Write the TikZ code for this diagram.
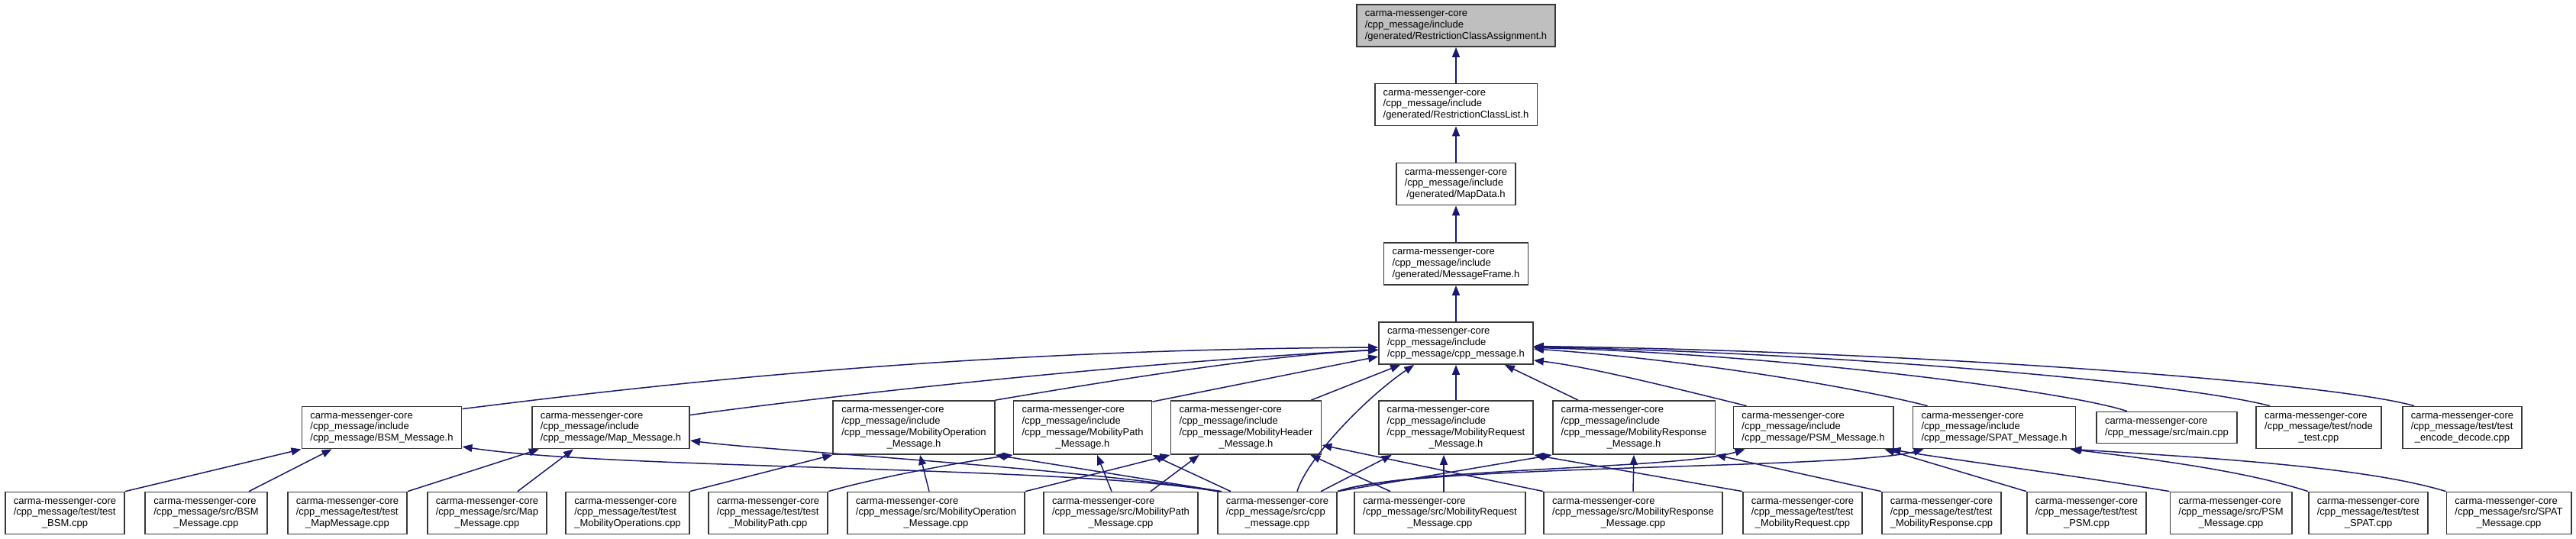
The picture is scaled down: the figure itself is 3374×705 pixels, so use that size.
\documentclass[tikz,border=0pt]{standalone}
\usepackage{fontspec}
\setmainfont{Liberation Sans}
\usetikzlibrary{arrows.meta}
\definecolor{edgeblue}{HTML}{191970}
\definecolor{boxgray}{HTML}{383838}
\definecolor{rootfill}{HTML}{BFBFBF}
\newcommand{\ltwo}[2]{\begin{tabular}{@{}l@{}}#1\\\multicolumn{1}{@{}c@{}}{#2}\end{tabular}}
\newcommand{\lthree}[3]{\begin{tabular}{@{}l@{}}#1\\#2\\\multicolumn{1}{@{}c@{}}{#3}\end{tabular}}
\newcommand{\lfour}[4]{\begin{tabular}{@{}l@{}}#1\\#2\\#3\\\multicolumn{1}{@{}c@{}}{#4}\end{tabular}}
\newcommand{\cmc}{carma-messenger-core}
\tikzset{
  box/.style={draw=boxgray, line width=1.8pt, fill=white, inner xsep=11pt, inner ysep=0pt,
    font=\fontsize{13}{14.7}\selectfont},
  hb2/.style={box, minimum height=41pt},
  hb3/.style={box, minimum height=55pt},
  hb4/.style={box, minimum height=70pt},
  dep/.style={draw=edgeblue, line width=1.5pt, -{Triangle[length=13pt,width=10pt]}},
}
\begin{document}
\begin{tikzpicture}[x=1pt,y=-1pt]
\useasboundingbox (0,0) rectangle (3374,705);
% chain
\node[hb3, fill=rootfill] (n0) at (1907,33.5) {\lthree{\cmc}{/cpp\_message/include}{/generated/RestrictionClassAssignment.h}};
\node[hb3] (n1) at (1907,137) {\lthree{\cmc}{/cpp\_message/include}{/generated/RestrictionClassList.h}};
\node[hb3] (n2) at (1907,241) {\lthree{\cmc}{/cpp\_message/include}{/generated/MapData.h}};
\node[hb3] (n3) at (1907,345.5) {\lthree{\cmc}{/cpp\_message/include}{/generated/MessageFrame.h}};
\node[hb3] (n4) at (1907,449.5) {\lthree{\cmc}{/cpp\_message/include}{/cpp\_message/cpp\_message.h}};
% row 5
\node[hb3] (bsmh) at (500,560) {\lthree{\cmc}{/cpp\_message/include}{/cpp\_message/BSM\_Message.h}};
\node[hb3] (maph) at (800,560) {\lthree{\cmc}{/cpp\_message/include}{/cpp\_message/Map\_Message.h}};
\node[hb4] (mopH) at (1197,560) {\lfour{\cmc}{/cpp\_message/include}{/cpp\_message/MobilityOperation}{\_Message.h}};
\node[hb4] (mpathH) at (1418,560) {\lfour{\cmc}{/cpp\_message/include}{/cpp\_message/MobilityPath}{\_Message.h}};
\node[hb4] (mheadH) at (1632,560) {\lfour{\cmc}{/cpp\_message/include}{/cpp\_message/MobilityHeader}{\_Message.h}};
\node[hb4] (mreqH) at (1907,560) {\lfour{\cmc}{/cpp\_message/include}{/cpp\_message/MobilityRequest}{\_Message.h}};
\node[hb4] (mrespH) at (2140,560) {\lfour{\cmc}{/cpp\_message/include}{/cpp\_message/MobilityResponse}{\_Message.h}};
\node[hb3] (psmH) at (2375,560) {\lthree{\cmc}{/cpp\_message/include}{/cpp\_message/PSM\_Message.h}};
\node[hb3] (spatH) at (2612,560) {\lthree{\cmc}{/cpp\_message/include}{/cpp\_message/SPAT\_Message.h}};
\node[hb2] (mainc) at (2838,560) {\ltwo{\cmc}{/cpp\_message/src/main.cpp}};
\node[hb3] (nodetest) at (3037,560) {\lthree{\cmc}{/cpp\_message/test/node}{\_test.cpp}};
\node[hb3] (encdec) at (3225,560) {\lthree{\cmc}{/cpp\_message/test/test}{\_encode\_decode.cpp}};
% row 6
\node[hb3] (testbsm) at (85,672) {\lthree{\cmc}{/cpp\_message/test/test}{\_BSM.cpp}};
\node[hb3] (bsmcpp) at (270,672) {\lthree{\cmc}{/cpp\_message/src/BSM}{\_Message.cpp}};
\node[hb3] (testmap) at (455,672) {\lthree{\cmc}{/cpp\_message/test/test}{\_MapMessage.cpp}};
\node[hb3] (mapcpp) at (638,672) {\lthree{\cmc}{/cpp\_message/src/Map}{\_Message.cpp}};
\node[hb3] (testmop) at (822,672) {\lthree{\cmc}{/cpp\_message/test/test}{\_MobilityOperations.cpp}};
\node[hb3] (testmpath) at (1006,672) {\lthree{\cmc}{/cpp\_message/test/test}{\_MobilityPath.cpp}};
\node[hb3] (mopcpp) at (1226,672) {\lthree{\cmc}{/cpp\_message/src/MobilityOperation}{\_Message.cpp}};
\node[hb3] (mpathcpp) at (1468,672) {\lthree{\cmc}{/cpp\_message/src/MobilityPath}{\_Message.cpp}};
\node[hb3] (cppcpp) at (1673,672) {\lthree{\cmc}{/cpp\_message/src/cpp}{\_message.cpp}};
\node[hb3] (mreqcpp) at (1886,672) {\lthree{\cmc}{/cpp\_message/src/MobilityRequest}{\_Message.cpp}};
\node[hb3] (mrespcpp) at (2139,672) {\lthree{\cmc}{/cpp\_message/src/MobilityResponse}{\_Message.cpp}};
\node[hb3] (testmreq) at (2361,672) {\lthree{\cmc}{/cpp\_message/test/test}{\_MobilityRequest.cpp}};
\node[hb3] (testmresp) at (2543,672) {\lthree{\cmc}{/cpp\_message/test/test}{\_MobilityResponse.cpp}};
\node[hb3] (testpsm) at (2733,672) {\lthree{\cmc}{/cpp\_message/test/test}{\_PSM.cpp}};
\node[hb3] (psmcpp) at (2922,672) {\lthree{\cmc}{/cpp\_message/src/PSM}{\_Message.cpp}};
\node[hb3] (testspat) at (3102,672) {\lthree{\cmc}{/cpp\_message/test/test}{\_SPAT.cpp}};
\node[hb3] (spatcpp) at (3286,672) {\lthree{\cmc}{/cpp\_message/src/SPAT}{\_Message.cpp}};
% chain edges
\draw[dep] (n1.north) -- (n0.south);
\draw[dep] (n2.north) -- (n1.south);
\draw[dep] (n3.north) -- (n2.south);
\draw[dep] (n4.north) -- (n3.south);
% into cpp_message.h
\draw[dep] ([yshift=-4pt]bsmh.north east) .. controls (850,505) and (1250,458) .. ([yshift=-5.5pt]n4.west);
\draw[dep] ([yshift=-12pt]maph.north east) .. controls (1000,530) and (1400,480) .. ([yshift=-8.5pt]n4.west);
\draw[dep] (mopH.north east) .. controls (1400,508) and (1650,465) .. ([yshift=-9pt]n4.west);
\draw[dep] ([yshift=-2pt]mpathH.north east) -- ([yshift=-17.5pt]n4.west);
\draw[dep] ([xshift=-14pt]mheadH.north east) -- ([xshift=29pt]n4.south west);
\draw[dep] ([xshift=26pt]cppcpp.north) .. controls (1712,600) and (1790,520) .. ([xshift=47pt]n4.south west);
\draw[dep] (mreqH.north) -- (n4.south);
\draw[dep] ([xshift=-73pt]mrespH.north) -- ([xshift=-38pt]n4.south east);
\draw[dep] ([xshift=18pt]psmH.north west) .. controls (2200,510) and (2080,480) .. ([yshift=-22.5pt]n4.east);
\draw[dep] ([xshift=20pt]spatH.north west) .. controls (2420,505) and (2200,470) .. ([yshift=-7.5pt]n4.east);
\draw[dep] ([xshift=-52pt]mainc.north) .. controls (2700,510) and (2300,462) .. ([yshift=-6pt]n4.east);
\draw[dep] ([xshift=-64pt]nodetest.north) .. controls (2850,500) and (2400,462) .. ([yshift=-5pt]n4.east);
\draw[dep] ([xshift=-63pt]encdec.north) .. controls (3050,500) and (2500,460) .. ([yshift=-4pt]n4.east);
% row 6 -> row 5
\draw[dep] (testbsm.north east) -- (bsmh.south west);
\draw[dep] ([xshift=56pt]bsmcpp.north) -- ([xshift=40pt]bsmh.south west);
\draw[dep] (testmap.north east) -- ([xshift=10pt]maph.south west);
\draw[dep] ([xshift=40pt]mapcpp.north) -- ([xshift=55pt]maph.south west);
\draw[dep] (testmop.north east) -- (mopH.south west);
\draw[dep] (testmpath.north east) .. controls (1150,625) and (1260,605) .. (mpathH.south west);
\draw[dep] ([xshift=-9pt]mopcpp.north) -- ([xshift=8pt]mopH.south);
\draw[dep] (mopcpp.north east) -- (mheadH.south west);
\draw[dep] ([xshift=-12pt]mpathcpp.north) -- ([xshift=19pt]mpathH.south);
\draw[dep] ([xshift=39pt]mpathcpp.north) -- ([xshift=38pt]mheadH.south west);
\draw[dep] ([xshift=-65pt]mreqcpp.north) -- ([xshift=-15pt]mheadH.south east);
\draw[dep] ([xshift=5pt]mreqcpp.north) -- ([xshift=-16pt]mreqH.south);
\draw[dep] (mrespcpp.north west) -- ([yshift=-23pt]mheadH.east);
\draw[dep] (mrespcpp.north) -- (mrespH.south);
\draw[dep] (testmreq.north west) -- (mreqH.south east);
\draw[dep] (testmresp.north west) -- (mrespH.south east);
\draw[dep] (testpsm.north west) -- ([xshift=-12pt]psmH.south east);
\draw[dep] (psmcpp.north west) .. controls (2700,620) and (2540,600) .. ([xshift=-4pt]psmH.south east);
\draw[dep] (testspat.north west) .. controls (2950,620) and (2850,605) .. ([xshift=-8pt]spatH.south east);
\draw[dep] (spatcpp.north west) .. controls (3100,612) and (2900,600) .. ([xshift=-6pt]spatH.south east);
% cpp_message.cpp -> headers
\draw[dep] (cppcpp.north west) .. controls (1400,610) and (800,615) .. ([yshift=-25pt]bsmh.east);
\draw[dep] ([xshift=3pt]cppcpp.north west) .. controls (1400,612) and (1000,590) .. ([yshift=-17pt]maph.east);
\draw[dep] ([xshift=6pt]cppcpp.north west) -- (mopH.south east);
\draw[dep] ([xshift=18pt]cppcpp.north west) -- (mpathH.south east);
\draw[dep] ([xshift=-22pt]cppcpp.north east) -- ([xshift=18pt]mreqH.south west);
\draw[dep] (cppcpp.north east) -- (mrespH.south west);
\draw[dep] (cppcpp.north east) .. controls (1850,612) and (2200,615) .. ([xshift=16pt]psmH.south west);
\draw[dep] (cppcpp.north east) .. controls (1850,608) and (2420,615) .. ([xshift=15pt]spatH.south west);
\end{tikzpicture}
\end{document}
